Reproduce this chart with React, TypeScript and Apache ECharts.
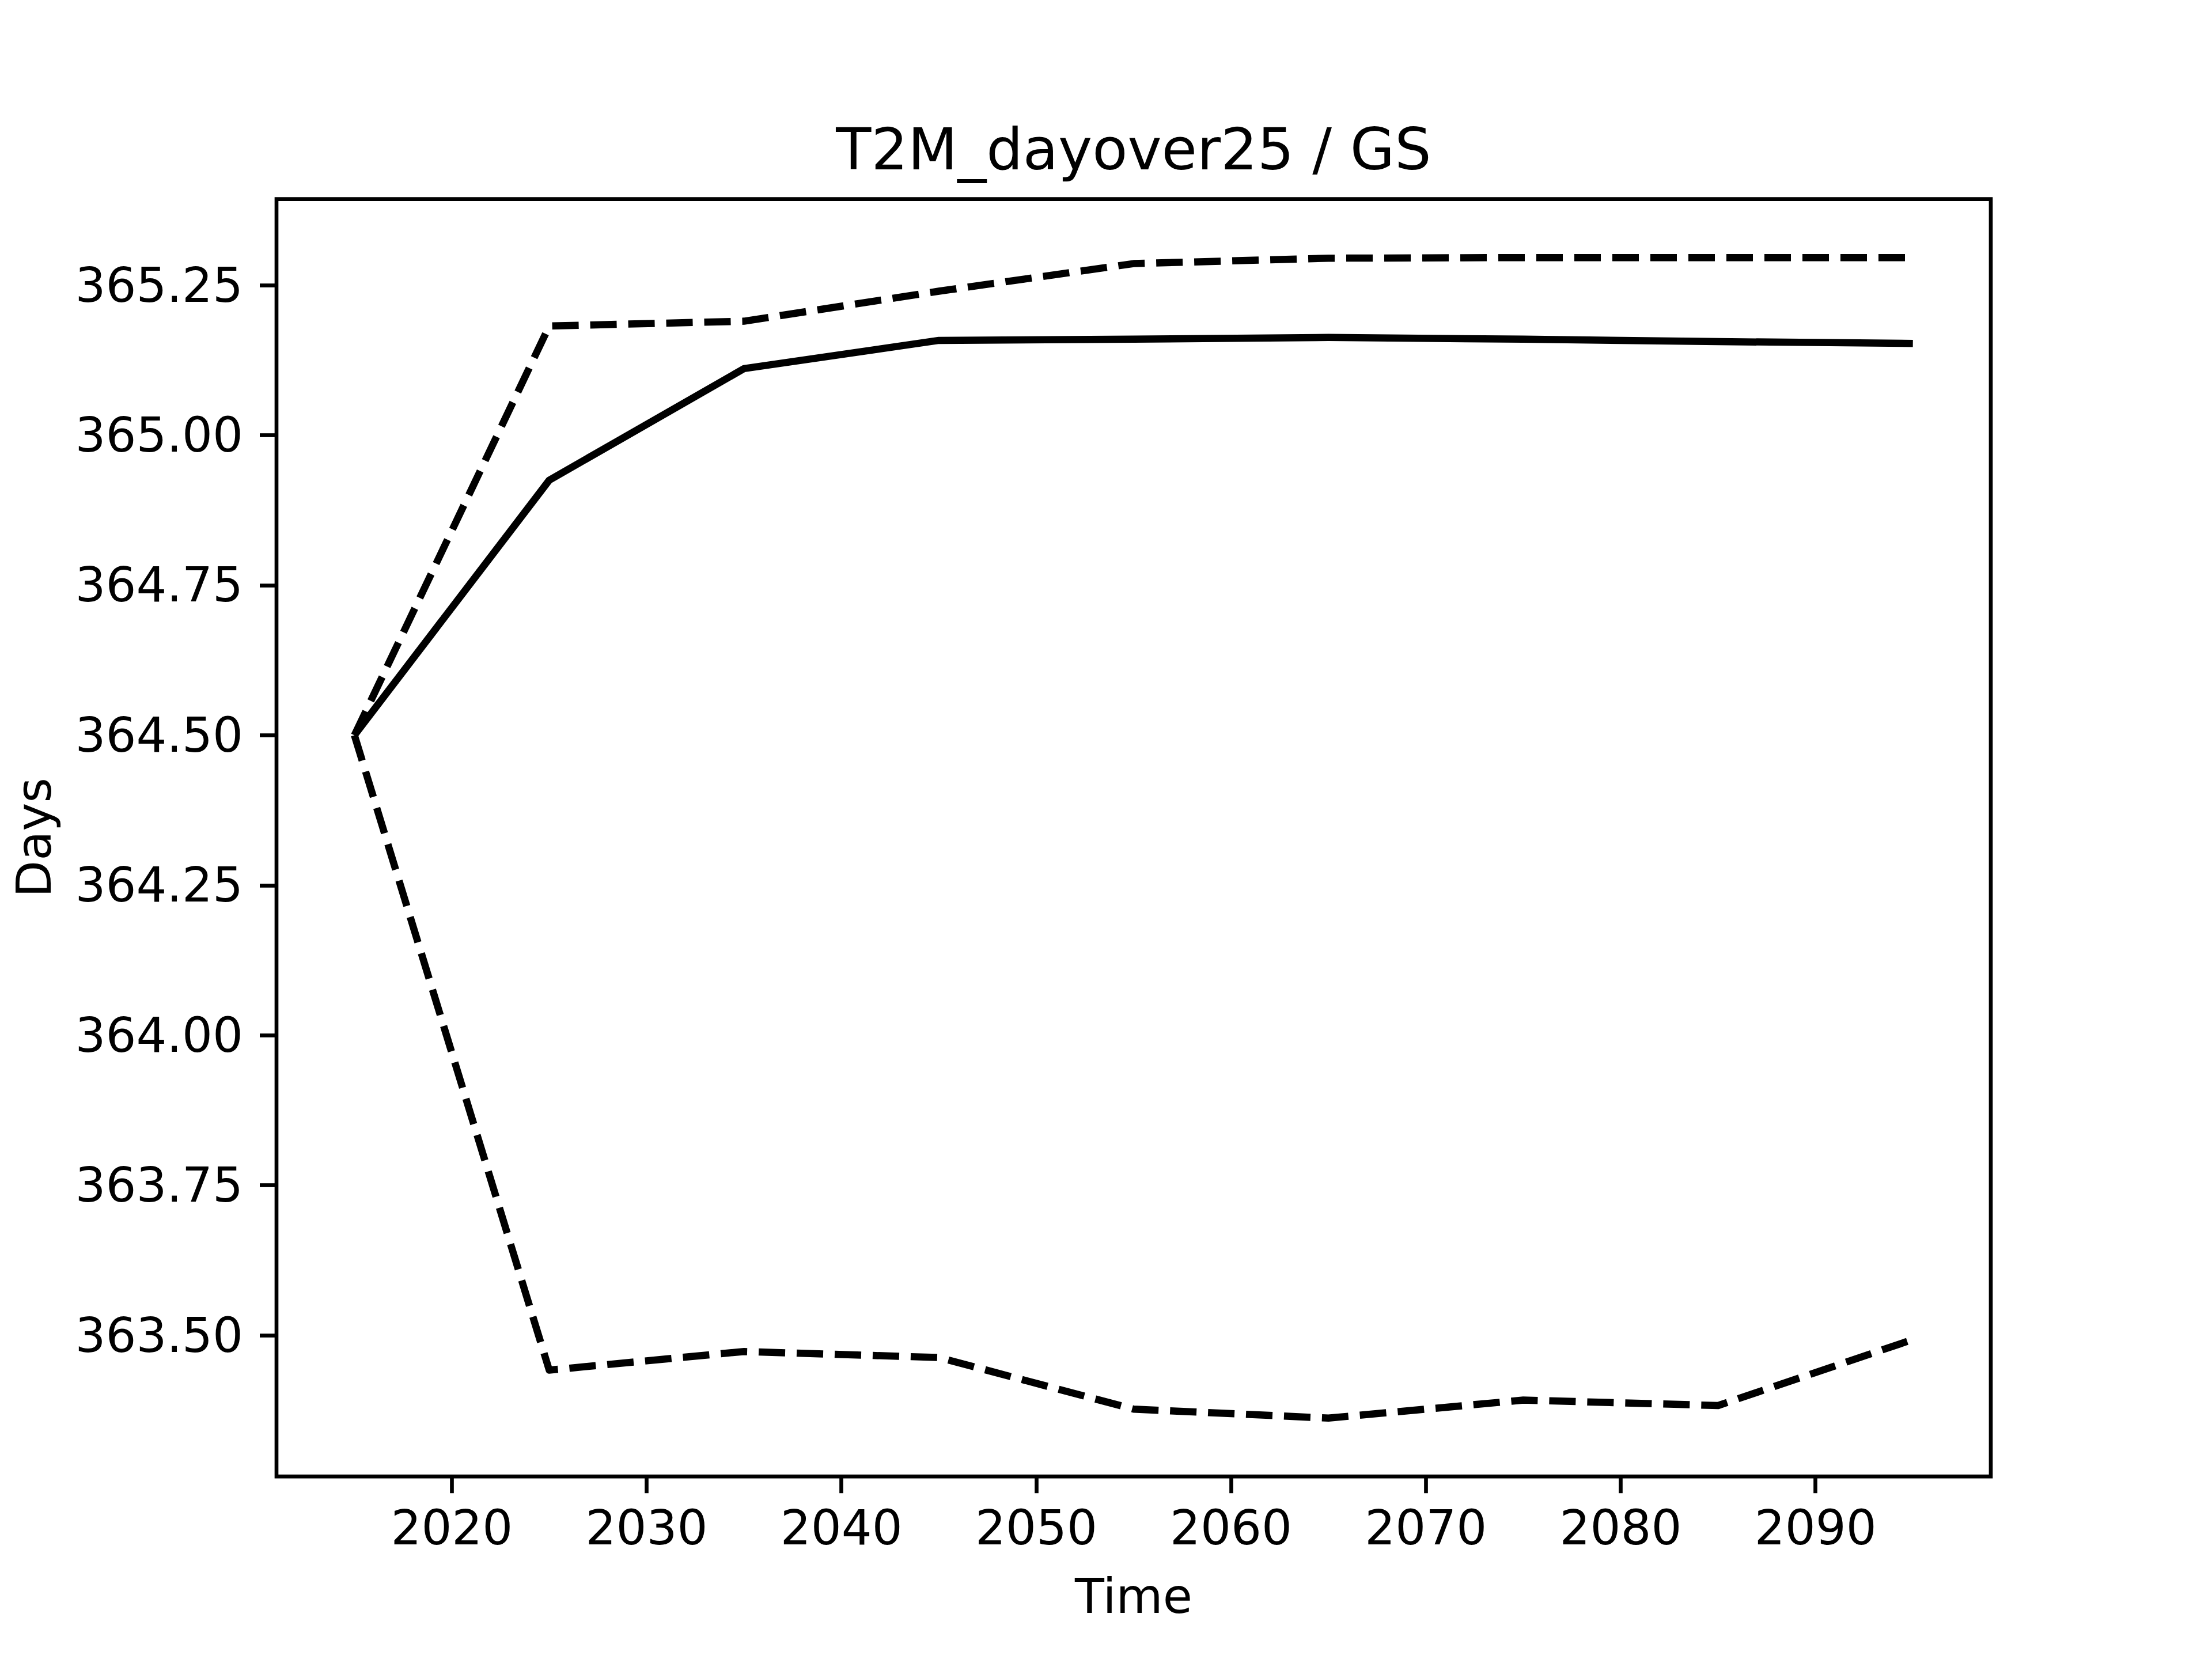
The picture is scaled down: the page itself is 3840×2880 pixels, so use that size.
import React, { useEffect, useRef } from "react";
import * as echarts from "echarts";

const years = [2015, 2025, 2035, 2045, 2055, 2065, 2075, 2085, 2095];
const meanDays = [364.5, 364.925, 365.111, 365.158, 365.16, 365.163, 365.16, 365.156, 365.153];
const upperDays = [364.5, 365.182, 365.19, 365.24, 365.286, 365.295, 365.296, 365.296, 365.296];
const lowerDays = [364.5, 363.442, 363.473, 363.463, 363.377, 363.362, 363.392, 363.383, 363.493];
const xTicks = [2020, 2030, 2040, 2050, 2060, 2070, 2080, 2090];
const yTicks = [363.5, 363.75, 364.0, 364.25, 364.5, 364.75, 365.0, 365.25];
const titleText = "T2M_dayover25 / GS";
const xName = "Time";
const yName = "Days";

const FONT = "DejaVu Sans";

export default function App() {
  const ref = useRef<HTMLDivElement>(null);
  useEffect(() => {
    if (!ref.current) return;
    const chart = echarts.init(ref.current, null, { renderer: "svg" });
    const pair = (arr: number[]) => years.map((y, i) => [y, arr[i]]);
    const lw = 12.5;
    const dash = [46, 20];
    chart.setOption({
      animation: false,
      backgroundColor: "#ffffff",
      grid: {
        left: 480,
        top: 345.6,
        width: 2976,
        height: 2217.6,
        show: true,
        borderColor: "#000",
        borderWidth: 6.67,
        backgroundColor: "transparent",
        containLabel: false,
      },
      graphic: [
        {
          type: "text",
          x: 1968,
          y: 259,
          style: {
            text: titleText,
            fontFamily: FONT,
            fontSize: 100,
            fill: "#000",
            align: "center",
            verticalAlign: "middle",
          },
        },
        {
          type: "text",
          x: 1968,
          y: 2771,
          style: {
            text: xName,
            fontFamily: FONT,
            fontSize: 83.3,
            fill: "#000",
            align: "center",
            verticalAlign: "middle",
          },
        },
        {
          type: "text",
          x: 59,
          y: 1454,
          rotation: Math.PI / 2,
          style: {
            text: yName,
            fontFamily: FONT,
            fontSize: 83.3,
            fill: "#000",
            align: "center",
            verticalAlign: "middle",
          },
        },
      ],
      xAxis: {
        type: "value",
        min: 2011,
        max: 2099,
        splitLine: { show: false },
        axisLine: { show: false },
        axisTick: {
          show: true,
          length: 29,
          customValues: xTicks,
          lineStyle: { color: "#000", width: 6.67 },
        },
        axisLabel: {
          customValues: xTicks,
          margin: 48,
          fontFamily: FONT,
          fontSize: 83.3,
          color: "#000",
          formatter: (v: number) => String(v),
        },
      },
      yAxis: {
        type: "value",
        min: 363.2647,
        max: 365.3935,
        splitLine: { show: false },
        axisLine: { show: false },
        axisTick: {
          show: true,
          length: 29,
          customValues: yTicks,
          lineStyle: { color: "#000", width: 6.67 },
        },
        axisLabel: {
          customValues: yTicks,
          margin: 58,
          fontFamily: FONT,
          fontSize: 83.3,
          color: "#000",
          formatter: (v: number) => v.toFixed(2),
        },
      },
      series: [
        {
          type: "line",
          data: pair(meanDays),
          showSymbol: false,
          symbol: "none",
          lineStyle: { color: "#000", width: lw, type: "solid", cap: "butt", join: "round" },
        },
        {
          type: "line",
          data: pair(upperDays),
          showSymbol: false,
          symbol: "none",
          lineStyle: { color: "#000", width: lw, type: dash, cap: "butt", join: "round" },
        },
        {
          type: "line",
          data: pair(lowerDays),
          showSymbol: false,
          symbol: "none",
          lineStyle: { color: "#000", width: lw, type: dash, cap: "butt", join: "round" },
        },
      ],
    });
    return () => chart.dispose();
  }, []);
  return (
    <div
      ref={ref}
      style={{ position: "fixed", left: 0, top: 0, width: 3840, height: 2880, background: "#fff" }}
    />
  );
}
